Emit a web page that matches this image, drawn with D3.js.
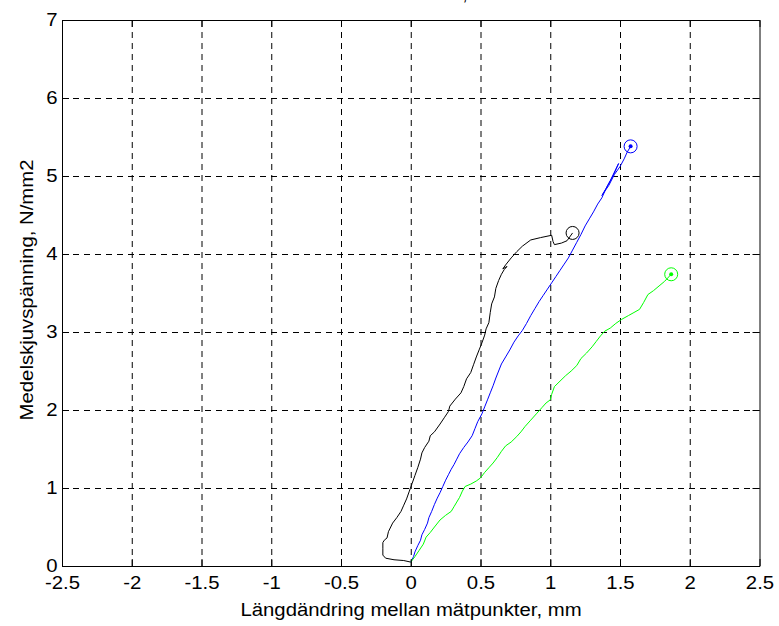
<!DOCTYPE html>
<html lang="sv">
<head>
  <meta charset="UTF-8">
  <title>Medelskjuvspänning</title>
  <script src="https://d3js.org/d3.v7.min.js"></script>
  <style>
    body { margin: 0; background: #fff; }
    text { font-family: "Liberation Sans", Arial, sans-serif; }
  </style>
</head>
<body>
  <script>
    var svgWidth = 779;
    var svgHeight = 626;

    // axis ticks
    var xTicks = [-2.5, -2, -1.5, -1, -0.5, 0, 0.5, 1, 1.5, 2, 2.5];
    var yTicks = [0, 1, 2, 3, 4, 5, 6, 7];

    var xTitle = "Längdändring mellan mätpunkter, mm";
    var yTitle = "Medelskjuvspänning, N/mm2";
    var topTitle = ",";   // only this bit of the title is visible

    // curves: [deformation mm, stress N/mm2]
    var blackCurve = [
      [0.00,0.05],[-0.05,0.07],[-0.12,0.08],[-0.18,0.10],[-0.20,0.14],[-0.20,0.22],[-0.20,0.30],
      [-0.19,0.33],[-0.17,0.36],[-0.16,0.44],[-0.13,0.55],[-0.10,0.62],[-0.07,0.70],[-0.05,0.78],
      [-0.03,0.86],[-0.01,0.96],[0.01,1.06],[0.03,1.16],[0.05,1.26],[0.07,1.37],[0.08,1.45],
      [0.10,1.52],[0.13,1.60],[0.14,1.67],[0.17,1.72],[0.21,1.82],[0.24,1.90],[0.27,1.98],
      [0.28,2.05],[0.32,2.14],[0.36,2.22],[0.38,2.30],[0.40,2.40],[0.43,2.48],[0.45,2.58],
      [0.47,2.68],[0.49,2.77],[0.51,2.86],[0.53,2.96],[0.54,3.04],[0.56,3.12],[0.57,3.25],
      [0.58,3.36],[0.60,3.45],[0.61,3.56],[0.63,3.66],[0.65,3.74],[0.67,3.80],[0.69,3.84],
      [0.66,3.81],[0.68,3.86],[0.72,3.95],[0.76,4.03],[0.80,4.10],[0.86,4.18],[0.93,4.21],
      [1.01,4.24],[1.02,4.16],[1.03,4.12],[1.08,4.14],[1.12,4.17],[1.16,4.27]
    ];
    var blueCurve = [
      [0.00,0.05],[0.02,0.12],[0.03,0.18],[0.05,0.26],[0.07,0.33],[0.08,0.40],[0.10,0.47],
      [0.12,0.55],[0.13,0.62],[0.15,0.70],[0.17,0.79],[0.19,0.87],[0.21,0.94],[0.23,1.02],
      [0.25,1.10],[0.27,1.17],[0.29,1.24],[0.31,1.30],[0.33,1.37],[0.35,1.44],[0.38,1.52],
      [0.41,1.59],[0.44,1.67],[0.46,1.76],[0.48,1.85],[0.51,1.95],[0.53,2.04],[0.55,2.13],
      [0.57,2.22],[0.59,2.31],[0.61,2.41],[0.63,2.50],[0.65,2.59],[0.68,2.68],[0.71,2.77],
      [0.74,2.87],[0.77,2.95],[0.80,3.02],[0.83,3.11],[0.86,3.21],[0.89,3.30],[0.92,3.39],
      [0.95,3.47],[0.98,3.55],[1.01,3.63],[1.04,3.71],[1.07,3.79],[1.10,3.87],[1.13,3.95],
      [1.16,4.05],[1.19,4.15],[1.22,4.25],[1.25,4.36],[1.28,4.45],[1.31,4.54],[1.34,4.64],
      [1.37,4.72],[1.40,4.84],[1.43,4.94],[1.46,5.05],[1.49,5.16],[1.45,5.00],[1.40,4.84],
      [1.37,4.75],[1.42,4.88],[1.46,5.02],[1.50,5.12],[1.53,5.22],[1.55,5.30],[1.576,5.38]
    ];
    var greenCurve = [
      [0.00,0.05],[0.03,0.12],[0.06,0.20],[0.09,0.28],[0.11,0.37],[0.14,0.43],[0.17,0.50],
      [0.21,0.59],[0.25,0.65],[0.29,0.70],[0.31,0.76],[0.33,0.82],[0.35,0.88],[0.37,0.96],
      [0.39,1.02],[0.43,1.05],[0.47,1.09],[0.50,1.13],[0.53,1.20],[0.56,1.26],[0.59,1.32],
      [0.62,1.39],[0.65,1.47],[0.68,1.54],[0.72,1.59],[0.76,1.66],[0.79,1.72],[0.82,1.79],
      [0.86,1.87],[0.90,1.95],[0.94,2.03],[0.97,2.09],[1.00,2.13],[1.01,2.20],[1.03,2.30],
      [1.07,2.37],[1.11,2.44],[1.15,2.50],[1.19,2.57],[1.22,2.66],[1.26,2.73],[1.30,2.81],
      [1.33,2.88],[1.36,2.95],[1.39,3.01],[1.43,3.05],[1.47,3.11],[1.51,3.16],[1.56,3.21],
      [1.60,3.25],[1.64,3.29],[1.67,3.38],[1.70,3.48],[1.74,3.53],[1.78,3.59],[1.82,3.65],
      [1.867,3.74]
    ];

    var curves = [
      { pts: blackCurve, color: "#000000", dot: false },
      { pts: blueCurve,  color: "#0000ff", dot: true },
      { pts: greenCurve, color: "#00ff00", dot: true }
    ];

    var plotLeft = 62, plotRight = 759.5, plotTop = 20, plotBottom = 566;
    var stretch = "scale(1.13,1)";

    var svg = d3.select("body")
                .append("svg")
                .attr("width", svgWidth)
                .attr("height", svgHeight)
                .style("display", "block");

    svg.append("rect").attr("width", svgWidth).attr("height", svgHeight).attr("fill", "#fff");

    var x = d3.scaleLinear().domain([-2.5, 2.5]).range([plotLeft, plotRight]);
    var y = d3.scaleLinear().domain([0, 7]).range([plotBottom, plotTop]);
    var fmt = function(d) { return String(d); };

    // dashed grid
    svg.append("g")
       .attr("transform", "translate(0," + plotBottom + ")")
       .call(d3.axisBottom(x).tickValues(xTicks.slice(1, -1)).tickSize(-(plotBottom - plotTop)).tickFormat(""))
       .call(g => g.select(".domain").remove())
       .selectAll("line")
       .attr("stroke", "#000")
       .attr("stroke-dasharray", "6,5");

    svg.append("g")
       .attr("transform", "translate(" + plotLeft + ",0)")
       .call(d3.axisLeft(y).tickValues(yTicks.slice(1, -1)).tickSize(-(plotRight - plotLeft)).tickFormat(""))
       .call(g => g.select(".domain").remove())
       .selectAll("line")
       .attr("stroke", "#000")
       .attr("stroke-dasharray", "6,5");

    // curves
    var line = d3.line().x(d => x(d[0])).y(d => y(d[1]));

    svg.selectAll("path.curve")
       .data(curves)
       .enter()
       .append("path")
       .attr("class", "curve")
       .attr("d", d => line(d.pts))
       .attr("fill", "none")
       .attr("stroke", d => d.color)
       .attr("stroke-width", 1);

    svg.selectAll("circle.endmark")
       .data(curves)
       .enter()
       .append("circle")
       .attr("class", "endmark")
       .attr("cx", d => x(d.pts[d.pts.length - 1][0]))
       .attr("cy", d => y(d.pts[d.pts.length - 1][1]))
       .attr("r", 6.5)
       .attr("fill", "none")
       .attr("stroke", d => d.color)
       .attr("stroke-width", 1);

    svg.selectAll("circle.enddot")
       .data(curves.filter(d => d.dot))
       .enter()
       .append("circle")
       .attr("class", "enddot")
       .attr("cx", d => x(d.pts[d.pts.length - 1][0]))
       .attr("cy", d => y(d.pts[d.pts.length - 1][1]))
       .attr("r", 2)
       .attr("fill", d => d.color);

    // box with inward ticks
    svg.append("g")
       .attr("transform", "translate(0," + plotBottom + ")")
       .call(d3.axisBottom(x).tickValues(xTicks).tickSizeInner(-7).tickSizeOuter(0).tickPadding(10).tickFormat(fmt));
    svg.append("g")
       .attr("transform", "translate(0," + plotTop + ")")
       .call(d3.axisTop(x).tickValues(xTicks).tickSizeInner(-7).tickSizeOuter(0).tickFormat(""));
    svg.append("g")
       .attr("transform", "translate(" + plotLeft + ",0)")
       .call(d3.axisLeft(y).tickValues(yTicks).tickSizeInner(-7).tickSizeOuter(0).tickPadding(4).tickFormat(fmt));
    svg.append("g")
       .attr("transform", "translate(" + plotRight + ",0)")
       .call(d3.axisRight(y).tickValues(yTicks).tickSizeInner(-7).tickSizeOuter(0).tickFormat(""));

    svg.selectAll(".domain, .tick line").attr("stroke", "#000");
    svg.selectAll(".tick text")
       .attr("fill", "#000")
       .style("font-size", "18px")
       .style("font-family", "'Liberation Sans', Arial, sans-serif")
       .attr("transform", stretch);

    // titles
    svg.append("text")
       .attr("transform", "translate(411,616) " + stretch)
       .attr("text-anchor", "middle")
       .style("font-size", "18px")
       .text(xTitle);

    svg.append("text")
       .attr("transform", "translate(33,290) rotate(-90) " + stretch)
       .attr("text-anchor", "middle")
       .style("font-size", "18px")
       .text(yTitle);

    svg.append("text")
       .attr("x", 465)
       .attr("y", 0)
       .attr("text-anchor", "middle")
       .style("font-size", "18px")
       .text(topTitle);
  </script>
</body>
</html>
